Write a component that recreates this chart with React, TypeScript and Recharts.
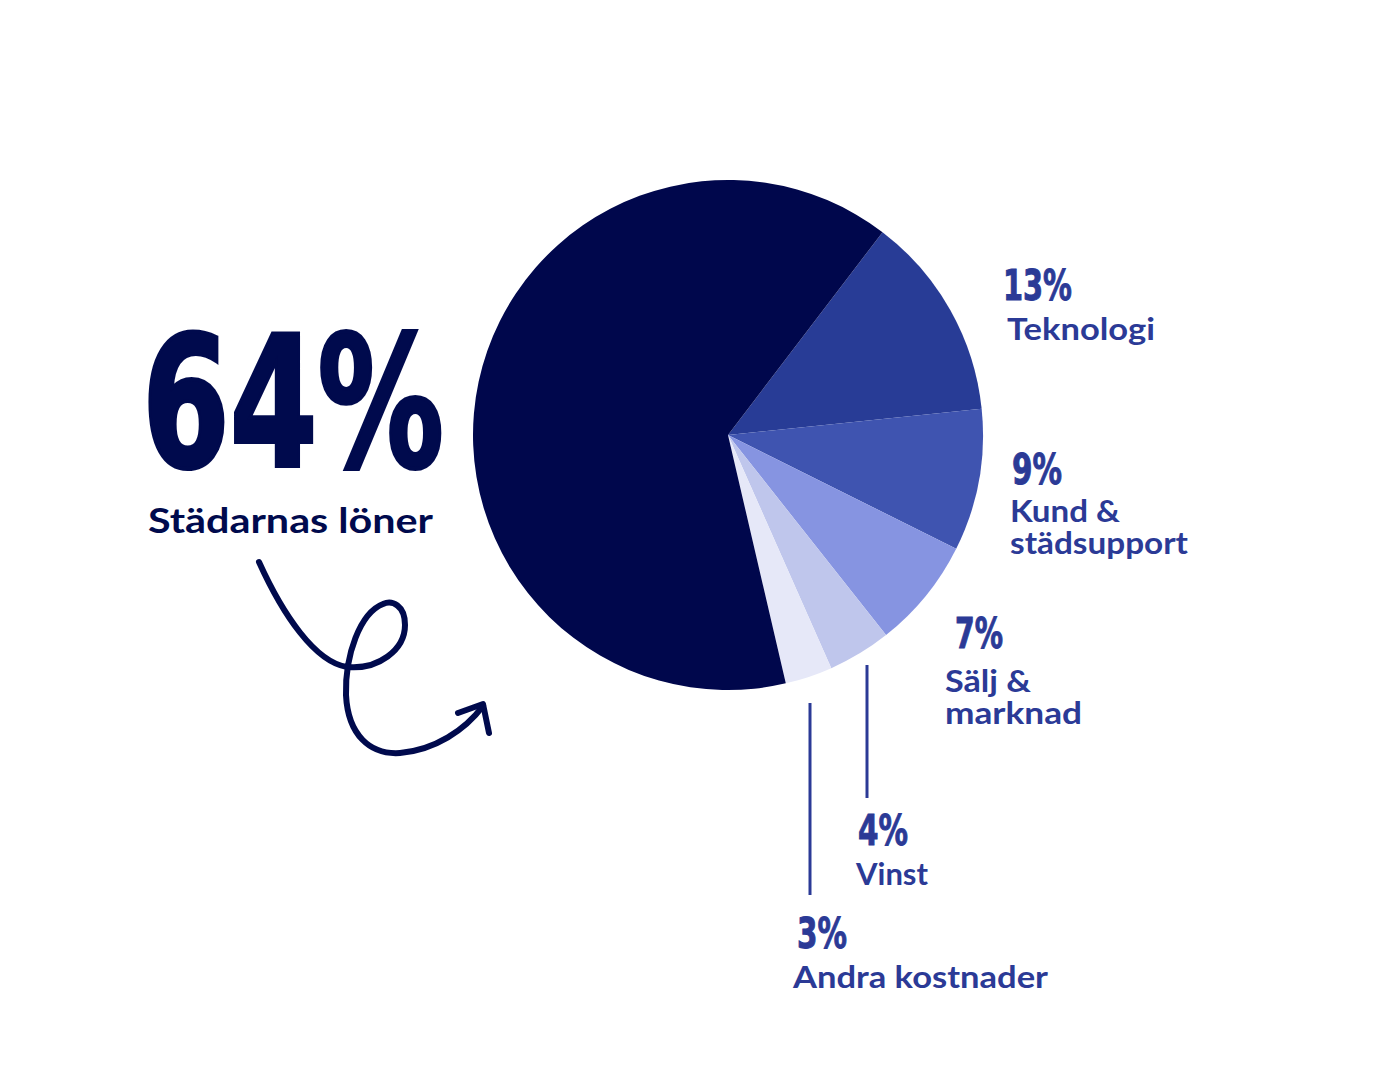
import { PieChart, Pie, Cell } from 'recharts'

const categories = ['Teknologi', 'Kund & städsupport', 'Sälj & marknad', 'Vinst', 'Andra kostnader', 'Städarnas löner']
const shares = [13, 9, 7, 4, 3, 64]
const colors = ['#283c96', '#3f54b0', '#8694e1', '#bfc6ec', '#e6e8f8', '#00074c']

// label text lines per slice (name split like the original)
const nameLines = [['Teknologi'], ['Kund &', 'städsupport'], ['Sälj &', 'marknad'], ['Vinst'], ['Andra kostnader'], ['Städarnas löner']]

const data = categories.map((name, i) => ({ name, value: shares[i] }))

const LABEL = '#2b3a96'
const DARK = '#000a4d'
const PCT_FONT = "'DejaVu Sans', sans-serif"
const NAME_FONT = "Lato, 'Open Sans', sans-serif"

// label placement relative to pie centre: pct baseline, first name baseline, widths
const layout = [
  { dx: 275, dy: -135, ndx: 279, ndy: -95, pw: 69, nw: [148] },
  { dx: 284, dy: 49, ndx: 282, ndy: 87, pw: 50, nw: [110, 178] },
  { dx: 227, dy: 213, ndx: 217, ndy: 257, pw: 48, nw: [86, 137] },
  { dx: 130, dy: 410, ndx: 128, ndy: 450, pw: 50, nw: [72], line: { x: 139, y1: 230, y2: 363 } },
  { dx: 69, dy: 513, ndx: 65, ndy: 553, pw: 50, nw: [255], line: { x: 82, y1: 268, y2: 460 } },
]

function renderLabel(props: any) {
  const { cx, cy, index, value } = props
  if (index === 5) {
    return (
      <g key="big">
        <text x={cx - 586} y={cy + 31} fill={DARK} stroke={DARK} strokeWidth={4} fontFamily={PCT_FONT} fontWeight={700} fontSize={182}
          textLength={302} lengthAdjust="spacingAndGlyphs">{value}%</text>
        <text x={cx - 580} y={cy + 98} fill={DARK} fontFamily={NAME_FONT} fontWeight={700} fontSize={35}
          textLength={285} lengthAdjust="spacingAndGlyphs">{nameLines[5][0]}</text>
        <path
          d="M259,562 C283,615 315,662 347,667 C378,670 405,650 405,625 C405,605 392,600 383,604 C360,613 345,655 346,695 C348,735 370,755 400,753 C435,750 465,730 483,706"
          fill="none" stroke={DARK} strokeWidth={6} strokeLinecap="round" />
        <path d="M458,713 L483,704 L489,733" fill="none" stroke={DARK} strokeWidth={6}
          strokeLinecap="round" strokeLinejoin="round" />
      </g>
    )
  }
  const l = layout[index]
  return (
    <g key={`lbl-${index}`}>
      {l.line && (
        <line x1={cx + l.line.x} x2={cx + l.line.x} y1={cy + l.line.y1} y2={cy + l.line.y2} stroke={LABEL} strokeWidth={3} />
      )}
      <text x={cx + l.dx} y={cy + l.dy} fill={LABEL} stroke={LABEL} strokeWidth={1} fontFamily={PCT_FONT} fontWeight={700} fontSize={42}
        textLength={l.pw} lengthAdjust="spacingAndGlyphs">{value}%</text>
      {nameLines[index].map((t, j) => (
        <text key={j} x={cx + l.ndx} y={cy + l.ndy + j * 32} fill={LABEL} fontFamily={NAME_FONT} fontWeight={700}
          fontSize={31} textLength={l.nw[j]} lengthAdjust="spacingAndGlyphs">{t}</text>
      ))}
    </g>
  )
}

export default function App() {
  return (
    <div style={{ position: 'absolute', left: 0, top: 0, width: 1400, height: 1080, background: '#fff' }}>
      <PieChart width={1400} height={1080} margin={{ top: 0, right: 0, bottom: 0, left: 0 }}>
        <Pie
          data={data}
          dataKey="value"
          nameKey="name"
          cx={728}
          cy={435}
          outerRadius={255}
          startAngle={52.7}
          endAngle={-307.3}
          stroke="none"
          label={renderLabel}
          labelLine={false}
          isAnimationActive={false}
        >
          {data.map((d, i) => (
            <Cell key={d.name} fill={colors[i]} />
          ))}
        </Pie>
      </PieChart>
    </div>
  )
}
